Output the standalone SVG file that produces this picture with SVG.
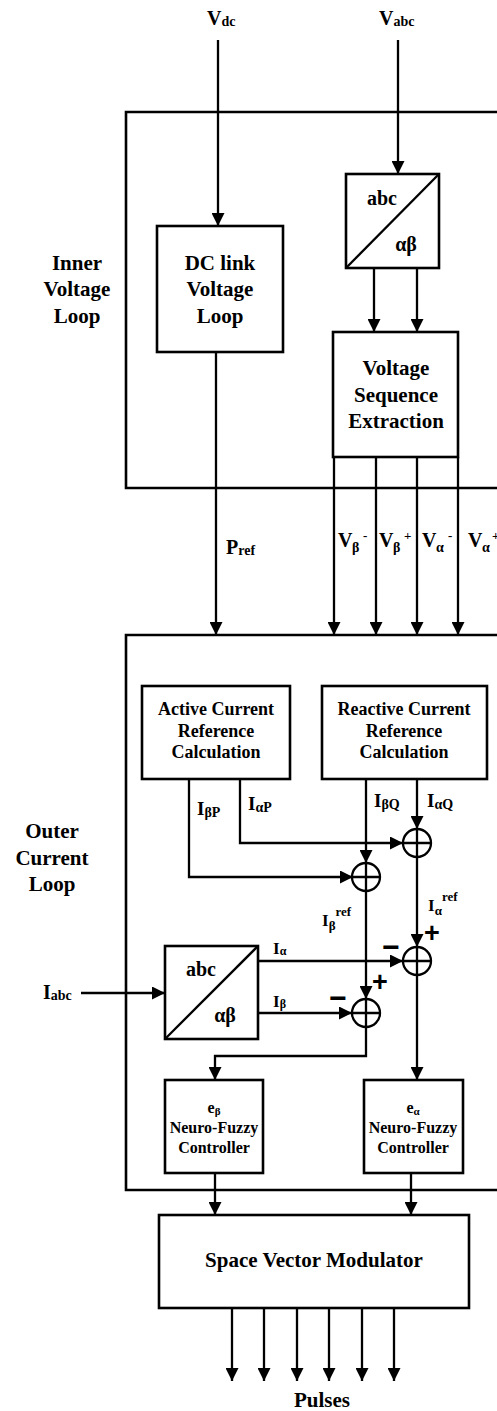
<svg xmlns="http://www.w3.org/2000/svg" width="497" height="1411" viewBox="0 0 497 1411" font-family="'Liberation Serif','Times New Roman',serif">
<defs>
<marker id="ah" markerUnits="userSpaceOnUse" markerWidth="13" markerHeight="13" refX="13" refY="6.5" orient="auto">
<path d="M0,0 L13,6.5 L0,13 z" fill="#000"/>
</marker>
<style>
text{font-family:"Liberation Serif","Times New Roman",serif;font-weight:bold;fill:#000}
.box{fill:#fff;stroke:#000;stroke-width:2.6}
.frame{fill:none;stroke:#000;stroke-width:2.6}
.ln{fill:none;stroke:#000;stroke-width:2.3}
.ar{fill:none;stroke:#000;stroke-width:2.3;marker-end:url(#ah)}
.sum{fill:#fff;stroke:#000;stroke-width:2.3}
.t21{font-size:21px;text-anchor:middle}
.t18{font-size:18px;text-anchor:middle}
.t16{font-size:16px;text-anchor:middle}
.plus{font-family:"Liberation Sans",Arial,sans-serif;font-size:27px;text-anchor:middle}
.minus{font-family:"Liberation Sans",Arial,sans-serif;font-size:30px;text-anchor:middle}
</style>
</defs>
<rect width="497" height="1411" fill="#fff"/>

<g id="frames">
<path class="frame" d="M510,112 H126 V488 H510"/>
<path class="frame" d="M510,635 H126 V1190 H510"/>
</g>

<g id="connectors">
<line class="ar" x1="218" y1="40" x2="218" y2="226"/>
<line class="ar" x1="398" y1="40" x2="398" y2="174"/>
<line class="ar" x1="374" y1="268" x2="374" y2="332"/>
<line class="ar" x1="417" y1="268" x2="417" y2="332"/>
<line class="ar" x1="216" y1="352" x2="216" y2="635"/>
<line class="ar" x1="334" y1="457" x2="334" y2="635"/>
<line class="ar" x1="376" y1="457" x2="376" y2="635"/>
<line class="ar" x1="417" y1="457" x2="417" y2="635"/>
<line class="ar" x1="458" y1="457" x2="458" y2="635"/>
<polyline class="ar" points="189,779 189,877 353,877"/>
<polyline class="ar" points="240,779 240,843 403,843"/>
<line class="ar" x1="366" y1="779" x2="366" y2="863"/>
<line class="ar" x1="417" y1="779" x2="417" y2="829"/>
<line class="ar" x1="366" y1="891" x2="366" y2="999"/>
<line class="ar" x1="417" y1="857" x2="417" y2="947"/>
<line class="ar" x1="81" y1="993" x2="165" y2="993"/>
<line class="ar" x1="258" y1="961" x2="403" y2="961"/>
<line class="ar" x1="258" y1="1013" x2="352" y2="1013"/>
<polyline class="ar" points="366,1027 366,1056 215,1056 215,1080"/>
<line class="ar" x1="417" y1="975" x2="417" y2="1080"/>
<line class="ar" x1="215" y1="1173" x2="215" y2="1215"/>
<line class="ar" x1="411" y1="1173" x2="411" y2="1215"/>
<line class="ar" x1="232" y1="1308" x2="232" y2="1381"/>
<line class="ar" x1="264" y1="1308" x2="264" y2="1381"/>
<line class="ar" x1="297" y1="1308" x2="297" y2="1381"/>
<line class="ar" x1="329" y1="1308" x2="329" y2="1381"/>
<line class="ar" x1="362" y1="1308" x2="362" y2="1381"/>
<line class="ar" x1="394" y1="1308" x2="394" y2="1381"/>
</g>

<g id="labels-io">
<text x="207" y="25" font-size="20">V<tspan font-size="14" dy="1">dc</tspan></text>
<text x="379" y="25" font-size="20">V<tspan font-size="14" dy="1">abc</tspan></text>
<text x="77" y="270" class="t21">Inner</text>
<text x="77" y="296" class="t21">Voltage</text>
<text x="77" y="323" class="t21">Loop</text>
<text x="52" y="838" class="t21">Outer</text>
<text x="52" y="865" class="t21">Current</text>
<text x="52" y="891" class="t21">Loop</text>
<text x="226" y="554" font-size="20">P<tspan font-size="14" dy="1">ref</tspan></text>
<text x="338" y="547" font-size="20">V</text><text x="352" y="552" font-size="14">β</text><text x="363" y="540" font-size="13">-</text>
<text x="379" y="547" font-size="20">V</text><text x="393" y="552" font-size="14">β</text><text x="404" y="540" font-size="13">+</text>
<text x="422" y="547" font-size="20">V</text><text x="436" y="552" font-size="14">α</text><text x="448" y="540" font-size="13">-</text>
<text x="468" y="547" font-size="20">V</text><text x="482" y="552" font-size="14">α</text><text x="492" y="540" font-size="13">+</text>
<text x="197" y="815" font-size="19">I<tspan font-size="14" dy="2">βP</tspan></text>
<text x="248" y="810" font-size="19">I<tspan font-size="14" dy="2">αP</tspan></text>
<text x="374" y="807" font-size="19">I<tspan font-size="14" dy="2">βQ</tspan></text>
<text x="427" y="807" font-size="19">I<tspan font-size="14" dy="2">αQ</tspan></text>
<text x="322" y="926" font-size="17">I<tspan font-size="13" dy="4">β</tspan><tspan font-size="13" dy="-14">ref</tspan></text>
<text x="428" y="911" font-size="17">I<tspan font-size="13" dy="4">α</tspan><tspan font-size="13" dy="-14">ref</tspan></text>
<text x="43" y="999" font-size="20">I<tspan font-size="14" dy="1">abc</tspan></text>
<text x="273" y="954" font-size="17">I<tspan font-size="12" dy="1">α</tspan></text>
<text x="273" y="1007" font-size="17">I<tspan font-size="12" dy="1">β</tspan></text>
<text x="432" y="942" class="plus">+</text>
<text x="391" y="957" class="minus">−</text>
<text x="380" y="991" class="plus">+</text>
<text x="338" y="1008" class="minus">−</text>
<text x="322" y="1407" class="t21">Pulses</text>
</g>

<g id="dc-link">
<rect class="box" x="157" y="226" width="126" height="126"/>
<text x="220" y="270" class="t21">DC link</text>
<text x="220" y="296" class="t21">Voltage</text>
<text x="220" y="323" class="t21">Loop</text>
</g>

<g id="abc-ab-v">
<rect class="box" x="346" y="174" width="93" height="94"/>
<line class="ln" x1="346" y1="268" x2="439" y2="174"/>
<text x="382" y="205" font-size="20" text-anchor="middle">abc</text>
<text x="406" y="251" font-size="20" text-anchor="middle">αβ</text>
</g>

<g id="vse">
<rect class="box" x="333" y="332" width="125" height="125"/>
<text x="396" y="375" class="t21">Voltage</text>
<text x="396" y="402" class="t21">Sequence</text>
<text x="396" y="428" class="t21">Extraction</text>
</g>

<g id="active">
<rect class="box" x="142" y="686" width="148" height="93"/>
<text x="216" y="715" class="t18">Active Current</text>
<text x="216" y="737" class="t18">Reference</text>
<text x="216" y="758" class="t18">Calculation</text>
</g>

<g id="reactive">
<rect class="box" x="322" y="686" width="165" height="93"/>
<text x="404" y="715" class="t18">Reactive Current</text>
<text x="404" y="737" class="t18">Reference</text>
<text x="404" y="758" class="t18">Calculation</text>
</g>

<g id="sum-beta1">
<circle class="sum" cx="366" cy="877" r="14"/>
<path class="ln" d="M352,877 H380 M366,863 V891"/>
</g>
<g id="sum-alpha1">
<circle class="sum" cx="417" cy="843" r="14"/>
<path class="ln" d="M403,843 H431 M417,829 V857"/>
</g>
<g id="sum-alpha2">
<circle class="sum" cx="417" cy="961" r="14"/>
<path class="ln" d="M403,961 H431 M417,947 V975"/>
</g>
<g id="sum-beta2">
<circle class="sum" cx="366" cy="1013" r="14"/>
<path class="ln" d="M352,1013 H380 M366,999 V1027"/>
</g>

<g id="abc-ab-i">
<rect class="box" x="165" y="946" width="93" height="93"/>
<line class="ln" x1="165" y1="1039" x2="258" y2="946"/>
<text x="201" y="976" font-size="20" text-anchor="middle">abc</text>
<text x="225" y="1022" font-size="20" text-anchor="middle">αβ</text>
</g>

<g id="nf-beta">
<rect class="box" x="165" y="1080" width="98" height="93"/>
<text x="214" y="1113" class="t16">e<tspan font-size="11" dy="2">β</tspan></text>
<text x="214" y="1133" class="t16">Neuro-Fuzzy</text>
<text x="214" y="1153" class="t16">Controller</text>
</g>

<g id="nf-alpha">
<rect class="box" x="364" y="1080" width="99" height="93"/>
<text x="413" y="1113" class="t16">e<tspan font-size="11" dy="2">α</tspan></text>
<text x="413" y="1133" class="t16">Neuro-Fuzzy</text>
<text x="413" y="1153" class="t16">Controller</text>
</g>

<g id="svm">
<rect class="box" x="159" y="1215" width="310" height="93"/>
<text x="314" y="1267" class="t21">Space Vector Modulator</text>
</g>
</svg>
